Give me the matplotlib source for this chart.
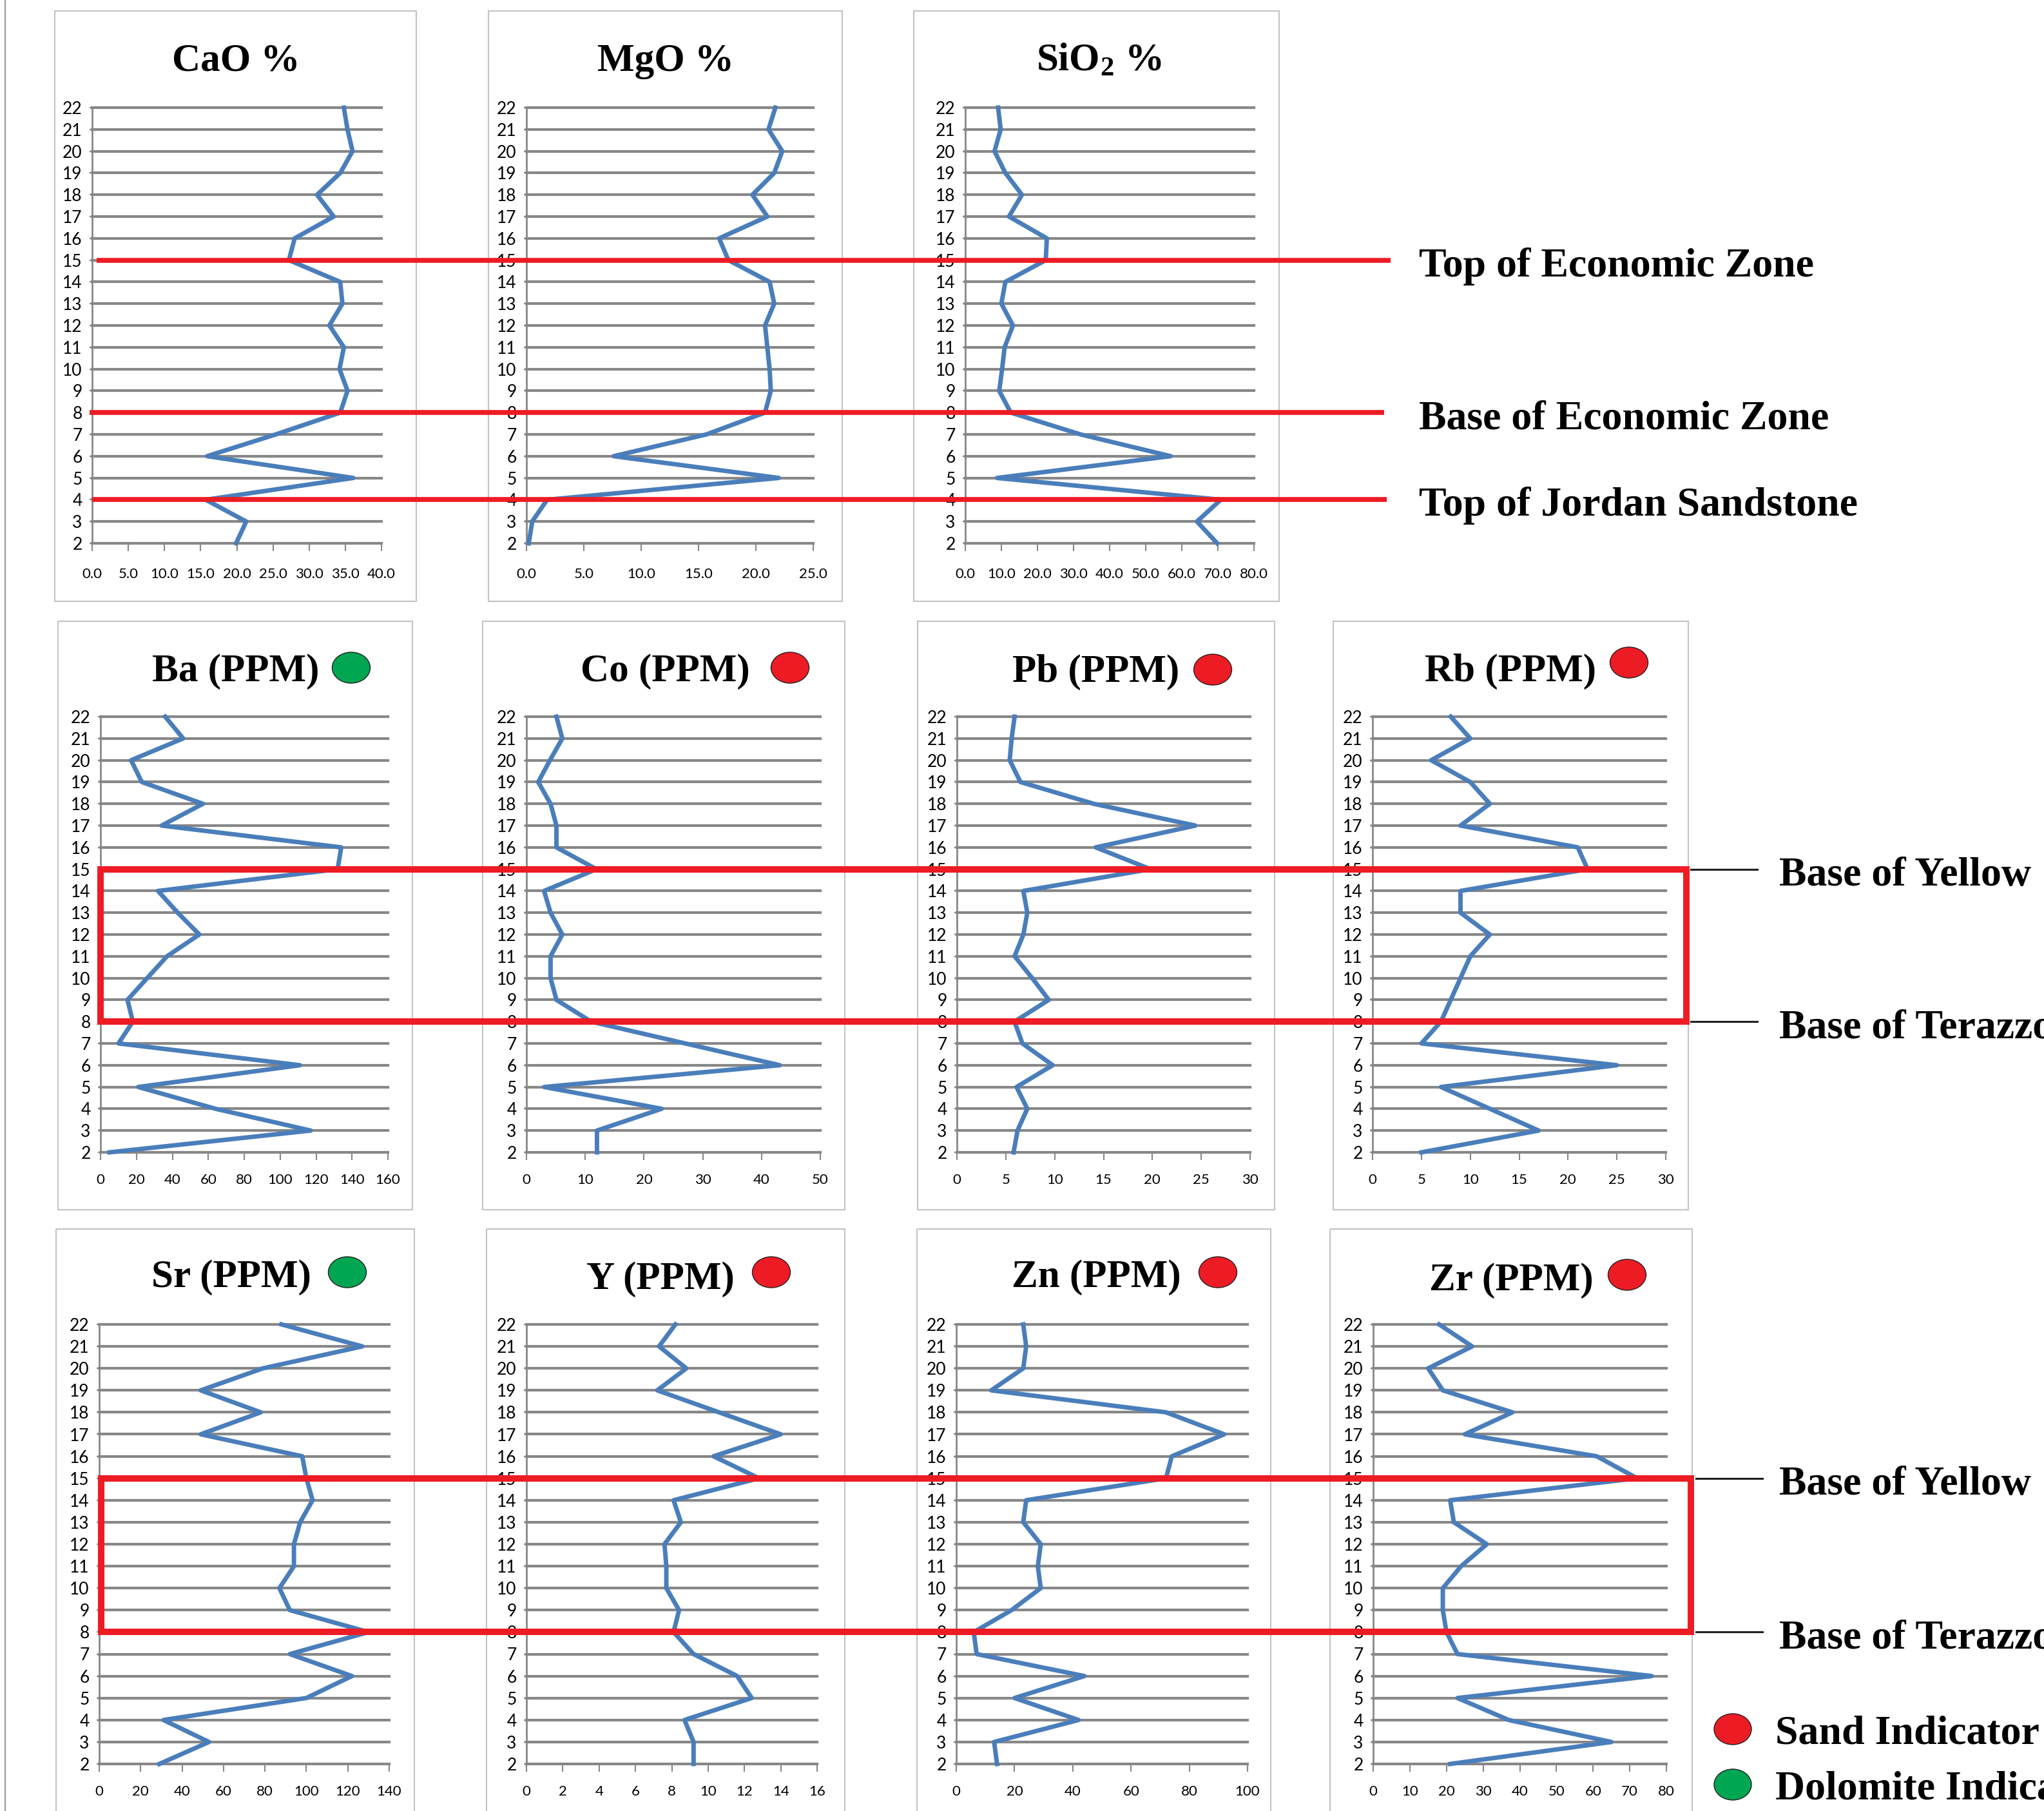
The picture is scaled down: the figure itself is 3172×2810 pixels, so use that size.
import matplotlib
matplotlib.use("Agg")
import matplotlib.pyplot as plt
import matplotlib.transforms as mtransforms
from matplotlib.patches import Rectangle, Ellipse

W, H = 3172, 2810

# sample levels, listed top (22) to bottom (2)
levels = list(range(22, 1, -1))

cao  = [34.8, 35.3, 36.0, 34.3, 31.1, 33.4, 28.0, 27.2, 34.3, 34.6, 32.8,
        34.8, 34.2, 35.3, 34.3, 25.4, 15.9, 36.1, 15.7, 21.3, 19.9]
mgo  = [21.7, 21.1, 22.3, 21.6, 19.7, 21.0, 16.8, 17.6, 21.2, 21.6, 20.8,
        21.0, 21.2, 21.3, 20.8, 15.7, 7.6, 22.0, 1.8, 0.5, 0.2]
sio2 = [9.1, 9.8, 8.1, 11.1, 15.7, 12.1, 22.6, 22.3, 11.1, 10.0, 13.2,
        10.9, 10.2, 9.4, 12.6, 31.9, 56.9, 8.8, 70.8, 64.2, 69.8]
ba   = [36, 46, 17, 23, 57, 34, 134, 132, 32, 43, 55, 37, 26, 15, 18, 10,
        111, 21, 64, 117, 5]
co   = [5.1, 6.1, 4.0, 2.0, 4.1, 5.1, 5.1, 11.9, 3.0, 4.1, 6.1, 4.1, 4.1,
        5.1, 11.0, 27.0, 43.1, 3.0, 23.0, 12.0, 12.0]
pb   = [5.9, 5.6, 5.4, 6.5, 14.0, 24.4, 14.2, 19.8, 6.8, 7.2, 6.8, 5.9,
        7.7, 9.4, 5.9, 6.7, 9.8, 6.1, 7.2, 6.2, 5.8]
rb   = [8, 10, 6, 10, 12, 9, 21, 22, 9, 9, 12, 10, 9, 8, 7, 5, 25, 7, 12,
        17, 5]
sr   = [88, 127, 79, 49, 78, 49, 98, 100, 103, 97, 94, 94, 87, 92, 130, 92,
        122, 100, 31, 53, 29]
y_ppm = [8.2, 7.3, 8.8, 7.2, 10.6, 14.0, 10.3, 12.8, 8.1, 8.5, 7.6, 7.7,
         7.7, 8.4, 8.1, 9.2, 11.6, 12.4, 8.7, 9.2, 9.2]
zn   = [23, 24, 23, 12, 72, 92, 74, 72, 24, 23, 29, 28, 29, 19, 6, 7, 44,
        20, 42, 13, 14]
zr   = [18, 27, 15, 19, 38, 25, 61, 72, 21, 22, 31, 24, 19, 19, 20, 23, 76,
        23, 37, 65, 21]

# zone boundaries (sample levels)
econ_top, econ_base, jordan_top = 15, 8, 4
yellow_base, terazzo_base = 15, 8

plt.rcParams['font.family'] = ['Liberation Sans Narrow', 'Lato', 'DejaVu Sans']
plt.rcParams['mathtext.default'] = 'regular'
SERIF = ['Liberation Serif', 'DejaVu Serif']

BLUE = '#4a7ebb'
GRID = '#878787'
RED = '#ed1c24'
GREEN = '#00a651'
BORDER = '#c3c3c3'

# pixel layout: rows (axis top/bottom) and panel frames
row_y = {1: (167, 843), 2: (1112, 1788), 3: (2055, 2737)}
row_frame = {1: (17, 933), 2: (964, 1877), 3: (1907, 2830)}

panels = [
    # title, values, xmax, step, label fmt, row, axis x0, x1, frame l, r, title x, baseline, dot
    dict(title='CaO %', vals=cao, xmax=40, step=5, fmt='{:.1f}', row=1,
         x0=143, x1=592, fl=85, fr=646, tx=366, tb=110, dot=None),
    dict(title='MgO %', vals=mgo, xmax=25, step=5, fmt='{:.1f}', row=1,
         x0=817, x1=1262, fl=758, fr=1307, tx=1033, tb=110, dot=None),
    dict(title=r'SiO$_2$ %', vals=sio2, xmax=80, step=10, fmt='{:.1f}', row=1,
         x0=1498, x1=1946, fl=1418, fr=1985, tx=1705, tb=110, dot=None),
    dict(title='Ba (PPM)', vals=ba, xmax=160, step=20, fmt='{:d}', row=2,
         x0=156, x1=602, fl=90, fr=640, tx=366, tb=1057, dot=(545, 1036, GREEN)),
    dict(title='Co (PPM)', vals=co, xmax=50, step=10, fmt='{:d}', row=2,
         x0=817, x1=1273, fl=749, fr=1311, tx=1032, tb=1057, dot=(1226, 1036, RED)),
    dict(title='Pb (PPM)', vals=pb, xmax=30, step=5, fmt='{:d}', row=2,
         x0=1485, x1=1940, fl=1424, fr=1978, tx=1701, tb=1058, dot=(1882, 1039, RED)),
    dict(title='Rb (PPM)', vals=rb, xmax=30, step=5, fmt='{:d}', row=2,
         x0=2130, x1=2585, fl=2069, fr=2620, tx=2344, tb=1057, dot=(2528, 1028, RED)),
    dict(title='Sr (PPM)', vals=sr, xmax=140, step=20, fmt='{:d}', row=3,
         x0=154, x1=604, fl=87, fr=643, tx=359, tb=1997, dot=(539, 1974, GREEN)),
    dict(title='Y (PPM)', vals=y_ppm, xmax=16, step=2, fmt='{:d}', row=3,
         x0=817, x1=1268, fl=755, fr=1311, tx=1025, tb=2000, dot=(1197, 1974, RED)),
    dict(title='Zn (PPM)', vals=zn, xmax=100, step=20, fmt='{:d}', row=3,
         x0=1484, x1=1936, fl=1423, fr=1972, tx=1701, tb=1997, dot=(1890, 1974, RED)),
    dict(title='Zr (PPM)', vals=zr, xmax=80, step=10, fmt='{:d}', row=3,
         x0=2131, x1=2586, fl=2064, fr=2626, tx=2345, tb=2002, dot=(2525, 1978, RED)),
]

fig = plt.figure(figsize=(W / 100, H / 100), dpi=100)

axes = []
for p in panels:
    top, bot = row_y[p['row']]
    ax = fig.add_axes([p['x0'] / W, 1 - bot / H, (p['x1'] - p['x0']) / W, (bot - top) / H])
    ax.plot(p['vals'], levels, color=BLUE, lw=5, clip_on=False, zorder=3)
    ax.set_xlim(0, p['xmax'])
    ax.set_ylim(2, 22)
    xt = list(range(0, p['xmax'] + 1, p['step']))
    ax.set_xticks(xt)
    ax.set_xticklabels([p['fmt'].format(t) for t in xt])
    ax.set_yticks(levels)
    ax.yaxis.grid(True, color=GRID, linewidth=3, clip_on=False)
    ax.xaxis.grid(False)
    for s in ['top', 'right']:
        ax.spines[s].set_visible(False)
    for s in ['left', 'bottom']:
        ax.spines[s].set_color(GRID)
        ax.spines[s].set_linewidth(2)
    ax.patch.set_alpha(0)
    ax.tick_params(axis='y', direction='out', length=3, width=1.5, color=GRID,
                   pad=8, labelsize=19)
    xpad = 19 if p['row'] == 1 else 15
    ax.tick_params(axis='x', direction='out', length=8.5, width=1.5, color=GRID,
                   pad=xpad, labelsize=16)
    axes.append(ax)

# overlay in pixel coordinates for frames, titles and zone markers
ov = fig.add_axes([0, 0, 1, 1])
ov.set_xlim(0, W)
ov.set_ylim(H, 0)
ov.set_axis_off()

ov.plot([8, 8], [0, H], color='#9a9a9a', lw=1.5)

for p in panels:
    ft, fb = row_frame[p['row']]
    ov.add_patch(Rectangle((p['fl'], ft), p['fr'] - p['fl'], fb - ft,
                           facecolor='none', edgecolor=BORDER, lw=1.5))
    ov.text(p['tx'], p['tb'], p['title'], ha='center', va='baseline',
            family=SERIF, weight='bold', fontsize=44)
    if p['dot']:
        dx, dy, dc = p['dot']
        ov.add_patch(Ellipse((dx, dy), 59, 48, facecolor=dc, edgecolor='#231f20', lw=1))


def level_tr(ax, dy=0):
    tr = mtransforms.blended_transform_factory(ov.transData, ax.transData)
    if dy:
        tr = mtransforms.offset_copy(tr, fig=fig, x=0, y=dy, units='dots')
    return tr


lab_kw = dict(family=SERIF, weight='bold', fontsize=46, ha='left', va='baseline')

# row 1: economic zone lines
ax1 = axes[0]
for lev, xa, xb, txt in [(econ_top, 150, 2158, 'Top of Economic Zone'),
                         (econ_base, 139, 2148, 'Base of Economic Zone'),
                         (jordan_top, 143, 2152, 'Top of Jordan Sandstone')]:
    ov.plot([xa, xb], [lev, lev], color=RED, lw=5.5, solid_capstyle='butt',
            transform=level_tr(ax1))
    ov.text(2202, lev, txt, transform=level_tr(ax1, -25), **lab_kw)

# rows 2 and 3: yellow / terazzo boxes
for ax, xl, xr, bl in [(axes[3], 156, 2617, 2624), (axes[7], 157, 2624, 2632)]:
    ov.plot([xl, xr, xr, xl, xl],
            [yellow_base, yellow_base, terazzo_base, terazzo_base, yellow_base],
            color=RED, lw=7.2, solid_joinstyle='miter', transform=level_tr(ax))
    for lev, txt in [(yellow_base, 'Base of Yellow'), (terazzo_base, 'Base of Terazzo')]:
        ov.plot([bl, bl + 103], [lev, lev], color='#231f20', lw=2.2,
                transform=level_tr(ax))
        ov.text(2761, lev, txt, transform=level_tr(ax, -25), **lab_kw)

# legend (the reference crops the last label at the right edge)
for cy, col, txt in [(2683, RED, 'Sand Indicator'), (2769, GREEN, 'Dolomite Indicator')]:
    ov.add_patch(Ellipse((2689, cy), 58, 48, facecolor=col, edgecolor='#231f20', lw=1))
    ov.text(2755, cy + 22, txt, **lab_kw)

fig.savefig('out.png', dpi=100)
